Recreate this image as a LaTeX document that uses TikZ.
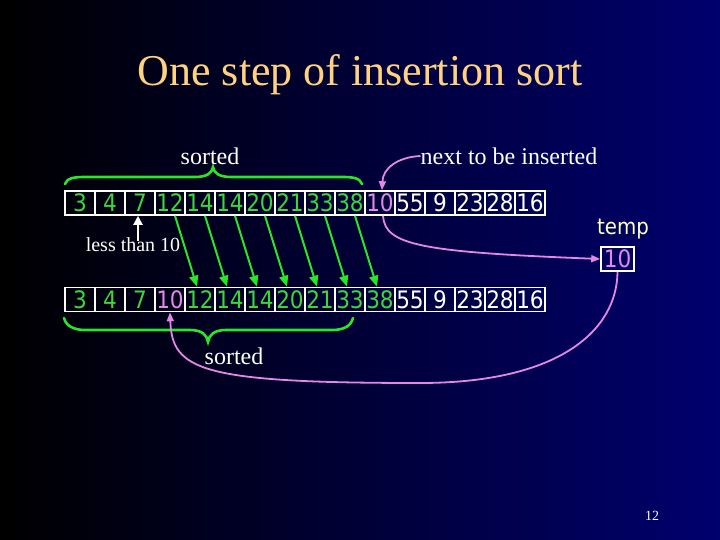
\documentclass[tikz,border=0pt]{standalone}
\usepackage{fontspec}
\setmainfont{Liberation Serif}
\newfontfamily\cellfont{DejaVu Sans Condensed}
\usetikzlibrary{arrows.meta}
\definecolor{bgblue}{RGB}{0,0,110}
\definecolor{cellgreen}{RGB}{60,215,60}
\definecolor{arrgreen}{RGB}{40,230,40}
\definecolor{pinkc}{RGB}{230,135,230}
\definecolor{titlec}{RGB}{255,210,130}
\definecolor{tempc}{RGB}{255,255,190}
\begin{document}
\begin{tikzpicture}[x=1pt,y=-1pt,
  cell/.style={draw=white,line width=1.6pt,minimum width=30pt,minimum height=24pt,inner sep=0pt,font=\cellfont\fontsize{24}{24}\selectfont},
  lbl/.style={text=white,font=\fontsize{24}{24}\selectfont,inner sep=0pt},
  garrow/.style={arrgreen,line width=2pt,-{Triangle[width=9pt,length=11pt]}},
  parrow/.style={pinkc,line width=1.8pt,-{Triangle[width=7pt,length=9pt]}},
  bracestyle/.style={draw=arrgreen,line width=2.6pt,line cap=round}]
\useasboundingbox (0,0) rectangle (720,540);
\fill[left color=black,right color=bgblue] (0,0) rectangle (720,540);

\node[font=\fontsize{44}{44}\selectfont,text=titlec,inner sep=0pt] (title) at (360,75) {One step of insertion sort};

% top row
\foreach \v/\c [count=\i from 0] in {3/cellgreen,4/cellgreen,7/cellgreen,12/cellgreen,14/cellgreen,14/cellgreen,20/cellgreen,21/cellgreen,33/cellgreen,38/cellgreen,10/pinkc,55/white,9/white,23/white,28/white,16/white}
  \node[cell,text=\c] (t\i) at (80+30*\i,203) {\v};
% bottom row
\foreach \v/\c [count=\i from 0] in {3/cellgreen,4/cellgreen,7/cellgreen,10/pinkc,12/cellgreen,14/cellgreen,14/cellgreen,20/cellgreen,21/cellgreen,33/cellgreen,38/cellgreen,55/white,9/white,23/white,28/white,16/white}
  \node[cell,text=\c] (b\i) at (80+30*\i,299.5) {\v};

% green shift arrows
\foreach \i in {3,...,9} {
  \pgfmathtruncatemacro\j{\i+1}
  \draw[garrow] ([xshift=5pt]t\i.south) -- ([xshift=-3pt]b\j.north);
}

% labels
\node[lbl] (sorttop) at (210,156) {sorted};
\node[lbl] (next) at (509,156) {next to be inserted};
\node[lbl,font=\fontsize{20}{20}\selectfont] (lt) at (133,245) {less than 10};
\node[lbl] (sortbot) at (234,356) {sorted};
\node[lbl,font=\fontsize{14}{14}\selectfont] (pg) at (652,516) {12};

\draw[white,line width=2pt,-{Triangle[width=9pt,length=9pt]}] ([xshift=5pt,yshift=-3pt]lt.north) -- ([xshift=-2pt]t2.south);

% temp
\node[text=tempc,font=\cellfont\fontsize{22}{22}\selectfont,inner sep=0pt] (templ) at (623,229) {temp};
\node[cell,text=pinkc,minimum width=33pt] (tmp) at (617.5,259) {10};

% braces
\draw[bracestyle] (65,184) .. controls (67,178) and (74,177) .. (85,177) -- (195,177) .. controls (207,177) and (212,173) .. (213,167) .. controls (214,173) and (219,177) .. (231,177) -- (342,177) .. controls (353,177) and (360,178) .. (362,184);
\draw[bracestyle] (64,318) .. controls (66,326) and (74,330) .. (85,330) -- (190,330) .. controls (202,330) and (207,335) .. (208,342) .. controls (209,335) and (214,330) .. (226,330) -- (332,330) .. controls (344,330) and (351,326) .. (353,318);

% pink arrows
\draw[parrow] (next.west) .. controls (398,157) and (383,168) .. ([xshift=2pt]t10.north);
\draw[parrow] ([xshift=3pt]t10.south) .. controls (385,245) and (420,252) .. (tmp.west);
\draw[parrow] (tmp.south) .. controls (617,330) and (560,383) .. (420,383) .. controls (200,383) and (172,370) .. (b3.south);
\end{tikzpicture}
\end{document}
